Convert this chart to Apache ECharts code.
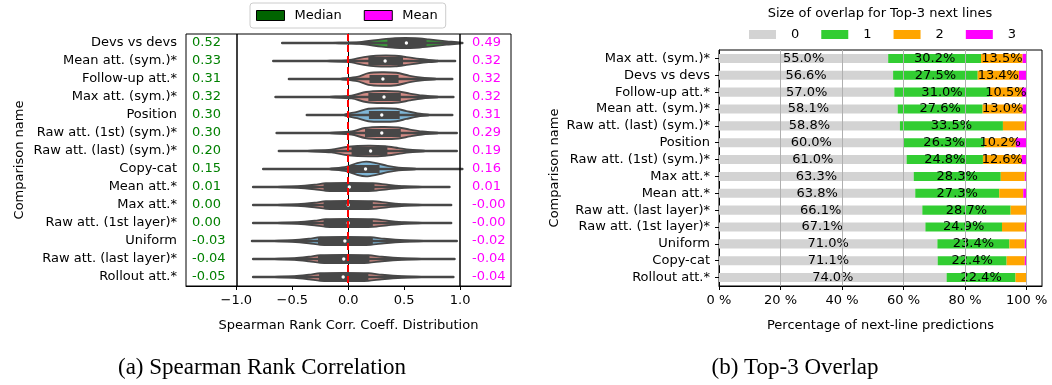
<!DOCTYPE html>
<html><head><meta charset="utf-8">
<script src="https://cdn.jsdelivr.net/npm/echarts@6/dist/echarts.min.js"></script>
<style>html,body{margin:0;padding:0;background:#fff}#c{width:1052px;height:385px}</style>
</head><body><div id="c"></div>
<script>
// ---------- Left panel data (Spearman violins) ----------
const leftCats = ['Devs vs devs','Mean att. (sym.)*','Follow-up att.*','Max att. (sym.)*','Position','Raw att. (1st) (sym.)*','Raw att. (last) (sym.)*','Copy-cat','Mean att.*','Max att.*','Raw att. (1st layer)*','Uniform','Raw att. (last layer)*','Rollout att.*'];
const medianText = ['0.52','0.33','0.31','0.32','0.30','0.30','0.20','0.15','0.01','0.00','0.00','-0.03','-0.04','-0.05'];
const meanText = ['0.49','0.32','0.32','0.32','0.31','0.29','0.19','0.16','0.01','-0.00','-0.00','-0.02','-0.04','-0.04'];
const whiskerMin = [-0.59,-0.67,-0.53,-0.65,-0.37,-0.64,-0.62,-0.76,-0.85,-0.85,-0.85,-0.86,-0.85,-0.85];
const whiskerMax = [1.02,0.955,0.93,0.94,0.93,0.97,0.97,1.02,0.905,0.92,0.92,0.97,0.95,0.94];
const q1 = [0.35,0.18,0.19,0.18,0.185,0.15,0.03,0.0,-0.22,-0.22,-0.22,-0.27,-0.27,-0.26];
const medianPos = [0.52,0.33,0.31,0.32,0.30,0.30,0.20,0.155,0.01,0.0,0.0,-0.03,-0.04,-0.045];
const q3 = [0.70,0.49,0.45,0.47,0.46,0.47,0.35,0.28,0.235,0.22,0.22,0.22,0.19,0.18];
const violinX = [
  [-0.15,0.1,0.3,0.42,0.6,0.72,0.88,1.0],
  [-0.22,0.0,0.14,0.25,0.42,0.52,0.64,0.8],
  [-0.08,0.08,0.18,0.3,0.43,0.55,0.66,0.78],
  [-0.18,0.03,0.16,0.3,0.45,0.55,0.66,0.8],
  [-0.04,0.08,0.18,0.3,0.43,0.52,0.62,0.72],
  [-0.18,0.03,0.15,0.3,0.45,0.55,0.66,0.8],
  [-0.38,-0.15,0.0,0.18,0.33,0.45,0.55,0.68],
  [-0.18,-0.02,0.08,0.16,0.25,0.35,0.45,0.6],
  [-0.68,-0.45,-0.3,-0.2,0.0,0.22,0.35,0.5,0.7],
  [-0.68,-0.45,-0.3,-0.2,0.0,0.22,0.35,0.5,0.7],
  [-0.68,-0.45,-0.3,-0.2,0.0,0.22,0.35,0.5,0.7],
  [-0.7,-0.5,-0.35,-0.25,-0.03,0.2,0.32,0.5,0.72],
  [-0.7,-0.48,-0.35,-0.25,-0.04,0.18,0.3,0.48,0.7],
  [-0.7,-0.48,-0.35,-0.25,-0.04,0.18,0.3,0.48,0.7]
];
const violinD = [
  [0,0.1,0.48,0.64,0.64,0.48,0.22,0.04],
  [0,0.12,0.52,0.7,0.7,0.52,0.26,0.03],
  [0,0.28,0.78,0.9,0.82,0.42,0.18,0.03],
  [0,0.18,0.66,0.8,0.72,0.45,0.2,0.03],
  [0,0.42,0.82,0.9,0.82,0.52,0.2,0.03],
  [0,0.2,0.66,0.8,0.72,0.45,0.2,0.03],
  [0,0.18,0.56,0.7,0.62,0.38,0.18,0.03],
  [0,0.28,0.78,0.98,0.78,0.42,0.18,0.03],
  [0,0.1,0.3,0.5,0.55,0.5,0.3,0.1,0],
  [0,0.1,0.3,0.5,0.55,0.5,0.3,0.1,0],
  [0,0.1,0.3,0.5,0.55,0.5,0.3,0.1,0],
  [0,0.1,0.3,0.5,0.55,0.5,0.3,0.1,0],
  [0,0.1,0.3,0.5,0.55,0.5,0.3,0.1,0],
  [0,0.1,0.3,0.5,0.55,0.5,0.3,0.1,0]
];
const violinGroup = ['g','s','s','s','b','s','s','b','s','s','s','b','s','s'];
const leftTicks = [-1,-0.5,0,0.5,1];
const refLines = [-1,1];

// ---------- Right panel data (Top-3 overlap) ----------
const rightCats = ['Max att. (sym.)*','Devs vs devs','Follow-up att.*','Mean att. (sym.)*','Raw att. (last) (sym.)*','Position','Raw att. (1st) (sym.)*','Max att.*','Mean att.*','Raw att. (last layer)*','Raw att. (1st layer)*','Uniform','Copy-cat','Rollout att.*'];
const ov0 = [55.0,56.6,57.0,58.1,58.8,60.0,61.0,63.3,63.8,66.1,67.1,71.0,71.1,74.0];
const ov1 = [30.2,27.5,31.0,27.6,33.5,26.3,24.8,28.3,27.3,28.7,24.9,23.4,22.4,22.4];
const ov2 = [13.5,13.4,10.5,13.0,7.1,10.2,12.6,7.8,7.8,5.0,7.4,5.0,5.9,3.4];
const ov3 = [1.3,2.5,1.5,1.3,0.6,3.5,1.6,0.6,1.1,0.2,0.6,0.6,0.6,0.2];
const overlapNames = ['0','1','2','3'];
const rightTicks = [0,20,40,60,80,100];

// ---------- styles ----------
const FONT = 'DejaVu Sans';
const EDGE = '#474747';
const fills = {g:'#3a9e3a', s:'#d48c86', b:'#7fb6d6'};
const ovColors = ['#d3d3d3','#32cd32','#ffa500','#ff00ff'];

function renderViolin(params, api) {
  const i = params.dataIndex;
  const yc = api.coord([0, i])[1];
  const band = api.size([0, 1])[1];
  const maxHalf = band * 0.42;
  const xs = violinX[i], ds = violinD[i];
  const top = [], bot = [];
  for (let k = 0; k < xs.length; k++) {
    const px = api.coord([xs[k], i])[0];
    top.push([px, yc - ds[k] * maxHalf]);
    if (ds[k] > 0) bot.push([px, yc + ds[k] * maxHalf]);
  }
  const pts = top.concat(bot.reverse());
  const xmin = api.coord([api.value(1), i])[0];
  const xmax = api.coord([api.value(2), i])[0];
  const xq1 = api.coord([api.value(3), i])[0];
  const xmed = api.coord([api.value(4), i])[0];
  const xq3 = api.coord([api.value(5), i])[0];
  return {type:'group', children:[
    {type:'polygon', shape:{points:pts, smooth:0.3}, style:{fill:fills[violinGroup[i]], stroke:EDGE, lineWidth:1.9}},
    {type:'line', shape:{x1:xmin, y1:yc, x2:xmax, y2:yc}, style:{stroke:EDGE, lineWidth:2.5, lineCap:'round'}},
    {type:'rect', shape:{x:xq1, y:yc-4, width:xq3-xq1, height:8}, style:{fill:EDGE}},
    {type:'circle', shape:{cx:xmed, cy:yc, r:1.7}, style:{fill:'#ffffff'}}
  ]};
}
function textRenderer(texts, color, side) {
  return function(params, api) {
    const i = params.dataIndex;
    const cs = params.coordSys;
    const yc = api.coord([0, i])[1];
    const x = side === 'left' ? cs.x + 6 : cs.x + cs.width - 39;
    return {type:'text', x:x, y:yc, style:{text:texts[i], fill:color, font:'13px "DejaVu Sans"', align:'left', verticalAlign:'middle'}};
  };
}

const labelFmt = (min) => (p) => (p.value >= min ? p.value.toFixed(1) + '%' : '');
const barSeries = [ov0, ov1, ov2, ov3].map((arr, k) => ({
  name: overlapNames[k], type:'bar', stack:'ov', xAxisIndex:1, yAxisIndex:1,
  data: arr, barWidth:'54%', itemStyle:{color:ovColors[k]},
  label: {show: k < 3, position:'inside', color:'#000', fontFamily:FONT, fontSize:13,
          formatter: labelFmt(k === 2 ? 10 : 0)},
  emphasis:{disabled:true}
}));

const option = {
  animation:false,
  textStyle:{fontFamily:FONT},
  legend:[
    {data:[{name:'Median', itemStyle:{color:'#006400', borderColor:'#000', borderWidth:1}},
           {name:'Mean', itemStyle:{color:'#ff00ff', borderColor:'#000', borderWidth:1}}],
     left:250, top:3, icon:'rect', itemWidth:28, itemHeight:10, itemGap:22,
     padding:[6,8,6,6], borderColor:'#cccccc', borderWidth:1, borderRadius:3,
     textStyle:{fontFamily:FONT, fontSize:13, color:'#000', padding:[0,0,0,5]}, selectedMode:false},
    {data:overlapNames, left:749, top:28, icon:'rect', itemWidth:27, itemHeight:9, itemGap:22, padding:0,
     textStyle:{fontFamily:FONT, fontSize:13, color:'#000', padding:[0,0,0,10]}, selectedMode:false}
  ],
  grid:[
    {left:186, right:541, top:34, bottom:99, show:true, borderColor:'#000', borderWidth:1, backgroundColor:'transparent'},
    {left:719, right:10, top:50, bottom:99, show:true, borderColor:'#000', borderWidth:1, backgroundColor:'transparent'}
  ],
  xAxis:[
    {type:'value', gridIndex:0, min:-1.45, max:1.455,
     axisLine:{show:true, lineStyle:{color:'#000'}},
     axisTick:{show:true, length:4, lineStyle:{color:'#000'}, customValues:leftTicks},
     axisLabel:{customValues:leftTicks, color:'#000', fontSize:13, fontFamily:FONT, margin:8,
                formatter:(v)=> (v<0?'\u2212':'') + Math.abs(v).toFixed(1)},
     splitLine:{show:false},
     name:'Spearman Rank Corr. Coeff. Distribution', nameLocation:'middle', nameGap:33,
     nameTextStyle:{color:'#000', fontSize:13, fontFamily:FONT}},
    {type:'value', gridIndex:1, min:0, max:105, z:5,
     axisLine:{show:true, lineStyle:{color:'#000'}},
     axisTick:{show:true, length:4, lineStyle:{color:'#000'}, customValues:rightTicks},
     axisLabel:{customValues:rightTicks, color:'#000', fontSize:13, fontFamily:FONT, margin:8,
                formatter:(v)=> v + ' %'},
     splitLine:{show:false},
     name:'Percentage of next-line predictions', nameLocation:'middle', nameGap:33,
     nameTextStyle:{color:'#000', fontSize:13, fontFamily:FONT}}
  ],
  yAxis:[
    {type:'category', gridIndex:0, data:leftCats, inverse:true,
     axisLine:{show:true, lineStyle:{color:'#000'}},
     axisTick:{show:true, alignWithLabel:true, interval:0, length:4, lineStyle:{color:'#000'}},
     axisLabel:{interval:0, color:'#000', fontSize:13, fontFamily:FONT, margin:9},
     name:'Comparison name', nameLocation:'middle', nameGap:160,
     nameTextStyle:{color:'#000', fontSize:13, fontFamily:FONT}},
    {type:'category', gridIndex:1, data:rightCats, inverse:true,
     axisLine:{show:true, lineStyle:{color:'#000'}},
     axisTick:{show:true, alignWithLabel:true, interval:0, length:4, lineStyle:{color:'#000'}},
     axisLabel:{interval:0, color:'#000', fontSize:13, fontFamily:FONT, margin:9},
     name:'Comparison name', nameLocation:'middle', nameGap:158,
     nameTextStyle:{color:'#000', fontSize:13, fontFamily:FONT}}
  ],
  series:[
    {type:'custom', name:'violins', xAxisIndex:0, yAxisIndex:0, z:2,
     data: leftCats.map((c,i)=>[i, whiskerMin[i], whiskerMax[i], q1[i], medianPos[i], q3[i]]),
     encode:{y:0, x:[1,2,3,4,5]}, renderItem:renderViolin, silent:true},
    {type:'line', name:'refs', xAxisIndex:0, yAxisIndex:0, data:[], z:6, silent:true,
     markLine:{silent:true, symbol:'none', label:{show:false}, animation:false,
       data: refLines.map(v=>({xAxis:v, lineStyle:{color:'#000', width:1.5, type:'solid'}}))
             .concat([{xAxis:0, lineStyle:{color:'#ff0000', width:2, type:[7,4]}}])}},
    {type:'custom', name:'Median', xAxisIndex:0, yAxisIndex:0, z:7, itemStyle:{color:'#008000'},
     data: leftCats.map((c,i)=>[0, i]), encode:{x:0, y:1}, renderItem:textRenderer(medianText, '#008000', 'left'), silent:true},
    {type:'custom', name:'Mean', xAxisIndex:0, yAxisIndex:0, z:7, itemStyle:{color:'#ff00ff'},
     data: leftCats.map((c,i)=>[0, i]), encode:{x:0, y:1}, renderItem:textRenderer(meanText, '#ff00ff', 'right'), silent:true}
  ].concat(barSeries).concat([
    {type:'line', name:'grid', xAxisIndex:1, yAxisIndex:1, data:[], z:6, silent:true,
     markLine:{silent:true, symbol:'none', label:{show:false}, animation:false,
       data: rightTicks.filter(v=>v>0).map(v=>({xAxis:v})), lineStyle:{color:'#b0b0b0', width:1, type:'solid'}}}
  ]),
  graphic:[
    {type:'text', x:880, y:14, style:{text:'Size of overlap for Top-3 next lines', font:'13px "DejaVu Sans"', fill:'#000', align:'center', verticalAlign:'middle'}},
    {type:'text', x:262, y:368, style:{text:'(a) Spearman Rank Correlation', font:'23px "Liberation Serif"', fill:'#000', align:'center', verticalAlign:'middle'}},
    {type:'text', x:795, y:368, style:{text:'(b) Top-3 Overlap', font:'23px "Liberation Serif"', fill:'#000', align:'center', verticalAlign:'middle'}}
  ]
};
const chart = echarts.init(document.getElementById('c'), null, {renderer:'canvas'});
chart.setOption(option);
</script></body></html>
